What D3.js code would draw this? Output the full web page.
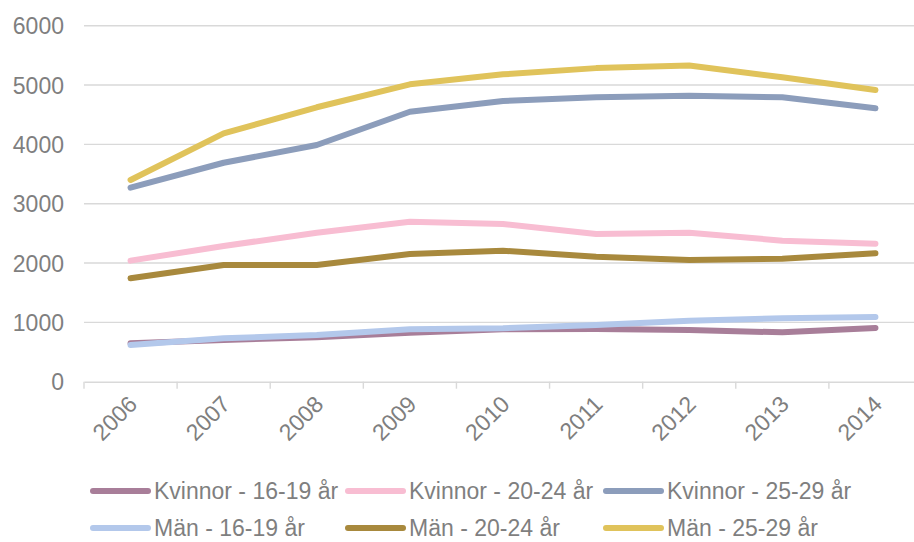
<!DOCTYPE html>
<html><head><meta charset="utf-8">
<script src="https://cdn.jsdelivr.net/npm/d3@7"></script>
<style>body{margin:0;background:#fff}svg{display:block;font-family:"Liberation Sans",Arial,sans-serif}</style>
</head><body><svg id="c" width="914" height="542"></svg>
<script>
const years = ["2006","2007","2008","2009","2010","2011","2012","2013","2014"];
const yTicks = [0,1000,2000,3000,4000,5000,6000];
const seriesNames = ["Kvinnor - 16-19 år","Kvinnor - 20-24 år","Kvinnor - 25-29 år","Män - 16-19 år","Män - 20-24 år","Män - 25-29 år"];
const kvinnor1619 = [647,703,748,826,883,888,871,832,905];
const kvinnor2024 = [2040,2287,2511,2697,2658,2490,2511,2377,2326];
const kvinnor2529 = [3270,3690,3990,4550,4731,4793,4820,4793,4608];
const man1619 = [619,731,787,883,900,956,1028,1068,1090];
const man2024 = [1743,1967,1967,2152,2208,2107,2051,2073,2164];
const man2529 = [3400,4186,4625,5012,5180,5285,5330,5130,4915];
const colors = ["#a87e99","#f8bdd2","#8c9dbb","#b3c8eb","#a8893d","#e0c35b"];

const values = [kvinnor1619,kvinnor2024,kvinnor2529,man1619,man2024,man2529];
const series = seriesNames.map((n,i)=>({name:n,color:colors[i],values:values[i]}));

const svg = d3.select("#c");
const x = d3.scaleBand().domain(years).range([84,922]);
const y = d3.scaleLinear().domain([0,6000]).range([381.7,25.7]);
const txt = "#7f7f7f", grid = "#d9d9d9", fs = "23px";

// gridlines
svg.append("g").selectAll("line").data(yTicks.filter(d=>d>0)).join("line")
  .attr("x1",84).attr("x2",922).attr("y1",d=>y(d)).attr("y2",d=>y(d))
  .attr("stroke",grid).attr("stroke-width",1.4);

// y axis labels
const ya = svg.append("g").attr("transform","translate(64,0)")
  .call(d3.axisLeft(y).tickValues(yTicks).tickSize(0).tickPadding(0).tickFormat(d3.format("d")));
ya.select(".domain").remove();
ya.selectAll("text").attr("fill",txt).style("font-size",fs).style("font-family","Liberation Sans, Arial, sans-serif").attr("dy","0.36em");

// x axis
const xa = svg.append("g").attr("transform",`translate(0,${y(0)})`)
  .call(d3.axisBottom(x).tickSize(0).tickPadding(0));
xa.select(".domain").attr("stroke",grid).attr("stroke-width",1.6);
xa.selectAll(".tick line").remove();
// boundary ticks
svg.append("g").selectAll("line").data(years).join("line")
  .attr("x1",d=>x(d)).attr("x2",d=>x(d)).attr("y1",y(0)).attr("y2",y(0)+7)
  .attr("stroke",grid).attr("stroke-width",1.4);
xa.selectAll(".tick text")
  .attr("fill",txt).style("font-size",fs).style("font-family","Liberation Sans, Arial, sans-serif")
  .attr("text-anchor","end").attr("dy",null).attr("y",null)
  .attr("transform","translate(8,24) rotate(-45)");

// lines
const line = d3.line().x((d,i)=>x(years[i])+x.bandwidth()/2).y(d=>y(d));
svg.append("g").selectAll("path").data(series).join("path")
  .attr("d",d=>line(d.values)).attr("fill","none").attr("stroke",d=>d.color)
  .attr("stroke-width",6).attr("stroke-linecap","round").attr("stroke-linejoin","round");

// legend
const colX = [93,348,606], rowY = [491,528];
const lg = svg.append("g").selectAll("g").data(series).join("g")
  .attr("transform",(d,i)=>`translate(${colX[i%3]},${rowY[Math.floor(i/3)]})`);
lg.append("line").attr("x1",0).attr("x2",55).attr("y1",0).attr("y2",0)
  .attr("stroke",d=>d.color).attr("stroke-width",6).attr("stroke-linecap","round");
lg.append("text").attr("x",61).attr("y",0).attr("dy","0.36em").attr("fill",txt)
  .style("font-size",fs).text(d=>d.name);
</script></body></html>
